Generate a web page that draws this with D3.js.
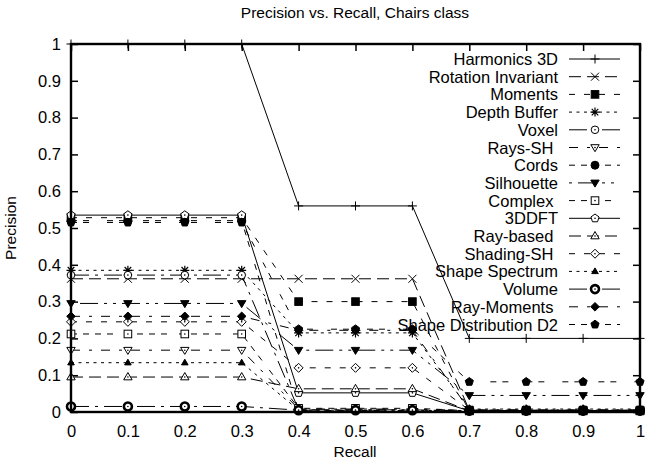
<!DOCTYPE html>
<html><head><meta charset="utf-8">
<script src="https://cdn.jsdelivr.net/npm/d3@7"></script>
<style>
body{margin:0;background:#fff;}
svg text{font-family:"Liberation Sans",Arial,Helvetica,sans-serif;fill:#000;}
</style></head>
<body><svg id="c" width="645" height="463"></svg>
<script>
const recall = [0,0.1,0.2,0.3,0.4,0.5,0.6,0.7,0.8,0.9,1];
const seriesNames = ["Harmonics 3D","Rotation Invariant","Moments","Depth Buffer","Voxel","Rays-SH ","Cords","Silhouette","Complex ","3DDFT","Ray-based ","Shading-SH ","Shape Spectrum","Volume","Ray-Moments ","Shape Distribution D2"];
const harmonics3D   = [1,1,1,1,0.56,0.56,0.56,0.2,0.2,0.2,0.2];
const rotationInv   = [0.362,0.362,0.362,0.362,0.362,0.362,0.362,0.005,0.005,0.005,0.005];
const moments       = [0.528,0.528,0.528,0.528,0.30,0.30,0.30,0.003,0.003,0.003,0.003];
const depthBuffer   = [0.385,0.385,0.385,0.385,0.215,0.215,0.215,0.008,0.008,0.008,0.008];
const voxel         = [0.372,0.372,0.372,0.372,0.006,0.006,0.006,0.002,0.002,0.002,0.002];
const raysSH        = [0.168,0.168,0.168,0.168,0.008,0.008,0.008,0.004,0.004,0.004,0.004];
const cords         = [0.52,0.52,0.52,0.52,0.004,0.004,0.004,0.002,0.002,0.002,0.002];
const silhouette    = [0.295,0.295,0.295,0.295,0.168,0.168,0.168,0.045,0.045,0.045,0.045];
const complexS      = [0.212,0.212,0.212,0.212,0.01,0.01,0.01,0.004,0.004,0.004,0.004];
const dft3D         = [0.535,0.535,0.535,0.535,0.052,0.052,0.052,0.003,0.003,0.003,0.003];
const rayBased      = [0.095,0.095,0.095,0.095,0.063,0.063,0.063,0.003,0.003,0.003,0.003];
const shadingSH     = [0.245,0.245,0.245,0.245,0.12,0.12,0.12,0.005,0.005,0.005,0.005];
const shapeSpectrum = [0.134,0.134,0.134,0.134,0.005,0.005,0.005,0.002,0.002,0.002,0.002];
const volume        = [0.015,0.015,0.015,0.015,0.005,0.005,0.005,0.004,0.004,0.004,0.004];
const rayMoments    = [0.26,0.26,0.26,0.26,0.222,0.222,0.222,0.006,0.006,0.006,0.006];
const shapeDistD2   = [0.515,0.515,0.515,0.515,0.225,0.225,0.225,0.082,0.082,0.082,0.082];
const xTicks = [0,0.1,0.2,0.3,0.4,0.5,0.6,0.7,0.8,0.9,1];
const yTicks = [0,0.1,0.2,0.3,0.4,0.5,0.6,0.7,0.8,0.9,1];
const xTickLabels = ["0","0.1","0.2","0.3","0.4","0.5","0.6","0.7","0.8","0.9","1"];
const yTickLabels = ["0","0.1","0.2","0.3","0.4","0.5","0.6","0.7","0.8","0.9","1"];

const allValues = [harmonics3D,rotationInv,moments,depthBuffer,voxel,raysSH,cords,silhouette,complexS,dft3D,rayBased,shadingSH,shapeSpectrum,volume,rayMoments,shapeDistD2];

const u = 3;
const dashTypes = [
  null,
  [4,2],[2,3],[1,1.5],[6,2,1,2],[3,3,1,3],[2,2,2,6],[1,2,6,2,1,2],[2,2,2,2,2,2,2,4]
].map(d => d ? d.map(v => v*u).join(",") : null);
const markerTypes = ["plus","cross","sqF","star","circO","triDO","circF","triDF","sqO","pentO","triUO","diaO","triUFs","circBold","diaF","pentF"];

function pentPts(r){const p=[];for(let i=0;i<5;i++){const a=-Math.PI/2+i*2*Math.PI/5;p.push([r*Math.cos(a),r*Math.sin(a)]);}return "M"+p.map(q=>q.join(",")).join("L")+"Z";}
function drawMarker(g, type, cx, cy){
  const m = g.append("g").attr("transform",`translate(${cx},${cy})`);
  const st = (sel,fill,sw)=>sel.attr("fill",fill).attr("stroke","#000").attr("stroke-width",sw||1);
  const dot = ()=>m.append("circle").attr("r",0.8).attr("fill","#000");
  switch(type){
    case "plus": st(m.append("path").attr("d","M-4.5,0H4.5M0,-4.5V4.5"),"none"); break;
    case "cross": st(m.append("path").attr("d","M-4,-4L4,4M-4,4L4,-4"),"none"); break;
    case "star": st(m.append("path").attr("d","M-4.5,0H4.5M0,-4.5V4.5M-3.3,-3.3L3.3,3.3M-3.3,3.3L3.3,-3.3"),"none",1.2); break;
    case "sqF": st(m.append("rect").attr("x",-3.8).attr("y",-3.8).attr("width",7.6).attr("height",7.6),"#000"); break;
    case "sqO": st(m.append("rect").attr("x",-3.8).attr("y",-3.8).attr("width",7.6).attr("height",7.6),"#fff"); dot(); break;
    case "circO": st(m.append("circle").attr("r",3.8),"#fff"); dot(); break;
    case "circF": st(m.append("circle").attr("r",4),"#000"); break;
    case "circBold": st(m.append("circle").attr("r",4),"#fff",2.6); dot(); break;
    case "triDO": st(m.append("path").attr("d","M0,4.2L4.2,-2.8L-4.2,-2.8Z"),"#fff"); dot(); break;
    case "triDF": st(m.append("path").attr("d","M0,4.2L4.2,-2.8L-4.2,-2.8Z"),"#000"); break;
    case "triUO": st(m.append("path").attr("d","M0,-4.5L4.2,2.8L-4.2,2.8Z"),"#fff"); dot(); break;
    case "triUFs": st(m.append("path").attr("d","M0,-3.5L3.3,2.2L-3.3,2.2Z"),"#000"); break;
    case "diaO": st(m.append("path").attr("d","M0,-4.5L4.5,0L0,4.5L-4.5,0Z"),"#fff"); dot(); break;
    case "diaF": st(m.append("path").attr("d","M0,-4.3L4.3,0L0,4.3L-4.3,0Z"),"#000"); break;
    case "pentO": st(m.append("path").attr("d",pentPts(4.3)),"#fff"); dot(); break;
    case "pentF": st(m.append("path").attr("d",pentPts(4.3)),"#000"); break;
  }
}

const svg = d3.select("#c");
const x = d3.scaleLinear().domain([0,1]).range([71,640]);
const y = d3.scaleLinear().domain([0,1]).range([412,44]);

svg.append("text").attr("x",355).attr("y",18).attr("text-anchor","middle").attr("font-size",15.5).text("Precision vs. Recall, Chairs class");
svg.append("text").attr("transform","translate(16,228) rotate(-90)").attr("text-anchor","middle").attr("font-size",15.5).text("Precision");
svg.append("text").attr("x",355).attr("y",457).attr("text-anchor","middle").attr("font-size",15.5).text("Recall");

const axB = svg.append("g").attr("transform",`translate(0,${y(0)})`).call(d3.axisBottom(x).tickValues(xTicks).tickFormat((d,i)=>xTickLabels[i]).tickSizeInner(-7).tickSizeOuter(0).tickPadding(13));
const axL = svg.append("g").attr("transform",`translate(${x(0)},0)`).call(d3.axisLeft(y).tickValues(yTicks).tickFormat((d,i)=>yTickLabels[i]).tickSizeInner(-7).tickSizeOuter(0).tickPadding(10));
const axT = svg.append("g").attr("transform",`translate(0,${y(1)})`).call(d3.axisTop(x).tickValues(xTicks).tickFormat("").tickSizeInner(-7).tickSizeOuter(0));
const axR = svg.append("g").attr("transform",`translate(${x(1)},0)`).call(d3.axisRight(y).tickValues(yTicks).tickFormat("").tickSizeInner(-7).tickSizeOuter(0));
[axB,axL,axT,axR].forEach(a=>{a.select(".domain").remove();a.selectAll("line").attr("stroke","#000").attr("stroke-width",1.5);a.selectAll("text").attr("font-size",16.5).attr("font-family","Liberation Sans, Arial, sans-serif");});

const lineGen = d3.line().x((d,i)=>x(recall[i])).y(d=>y(d));
const plot = svg.append("g");
allValues.forEach((vals,k)=>{
  const dash = dashTypes[k%9];
  plot.append("path").attr("d",lineGen(vals)).attr("fill","none").attr("stroke","#000").attr("stroke-width",1).attr("stroke-dasharray",dash);
  vals.forEach((v,i)=>drawMarker(plot,markerTypes[k],x(recall[i]),y(v)));
});

svg.append("rect").attr("x",x(0)).attr("y",y(1)).attr("width",x(1)-x(0)).attr("height",y(0)-y(1)).attr("fill","none").attr("stroke","#000").attr("stroke-width",2.4);

const lg = svg.append("g");
seriesNames.forEach((name,k)=>{
  const ry = 59 + k*17.7;
  lg.append("text").attr("x",558).attr("y",ry+6).attr("text-anchor","end").attr("font-size",16.5).style("white-space","pre").text(name);
  lg.append("line").attr("x1",569).attr("x2",620).attr("y1",ry).attr("y2",ry).attr("stroke","#000").attr("stroke-width",1).attr("stroke-dasharray",dashTypes[k%9]);
  drawMarker(lg,markerTypes[k],595,ry);
});
</script></body></html>
